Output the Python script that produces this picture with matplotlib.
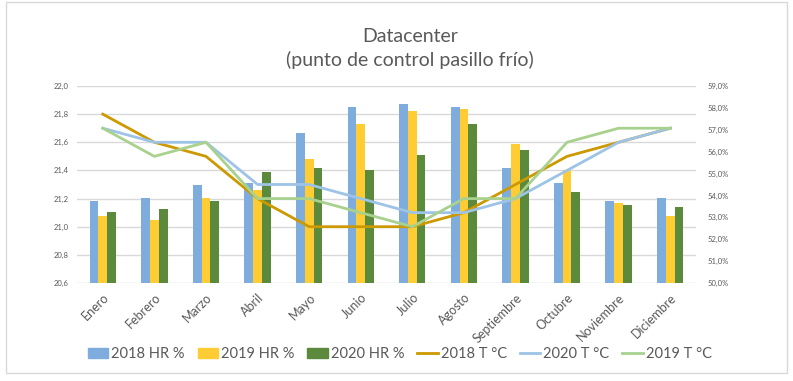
import numpy as np
import matplotlib
matplotlib.use("Agg")
import matplotlib.pyplot as plt
from matplotlib.patches import Patch, Rectangle
from matplotlib.lines import Line2D

# datos del grafico
meses = ["Enero", "Febrero", "Marzo", "Abril", "Mayo", "Junio", "Julio",
         "Agosto", "Septiembre", "Octubre", "Noviembre", "Diciembre"]
hr_2018 = [53.76, 53.88, 54.47, 54.57, 56.85, 58.04, 58.17, 58.04, 55.25, 54.57, 53.74, 53.88]
hr_2019 = [53.06, 52.88, 53.88, 54.25, 55.66, 57.26, 57.85, 57.95, 56.36, 55.17, 53.65, 53.06]
hr_2020 = [53.24, 53.38, 53.74, 55.07, 55.25, 55.16, 55.84, 57.26, 56.07, 54.16, 53.56, 53.47]
t_2018 = [21.8, 21.6, 21.5, 21.2, 21.0, 21.0, 21.0, 21.1, 21.3, 21.5, 21.6, 21.7]
t_2020 = [21.7, 21.6, 21.6, 21.3, 21.3, 21.2, 21.1, 21.1, 21.2, 21.4, 21.6, 21.7]
t_2019 = [21.7, 21.5, 21.6, 21.2, 21.2, 21.1, 21.0, 21.2, 21.2, 21.6, 21.7, 21.7]

gris = "#595959"
plt.rcParams['font.family'] = ["Lato", "DejaVu Sans"]

fig = plt.figure(figsize=(7.93, 3.81), dpi=100)
# marco exterior
fig.patches.append(Rectangle((0.0076, 0.021), 0.985, 0.975, transform=fig.transFigure,
                             fill=False, edgecolor="#D9D9D9", linewidth=1))

# eje base: solo la cuadricula de temperatura
ax = fig.add_axes([0.0971, 0.2572, 0.7806, 0.5171])
ax.set_ylim(20.6, 22.0)
ax.set_yticks(np.arange(20.6, 22.01, 0.2))
ax.set_yticklabels([("%.1f" % v).replace(".", ",") for v in np.arange(20.6, 22.01, 0.2)],
                   fontsize=5.5, color=gris)
ax.grid(True, axis="y", color="#D9D9D9", linewidth=1)
ax.set_axisbelow(True)
x = np.arange(len(meses))
ax.set_xlim(-0.5, len(meses) - 0.5)
ax.set_xticks(x)
ax.set_xticklabels(meses, rotation=45, ha="right", rotation_mode="anchor",
                   fontsize=9, color=gris)
ax.tick_params(length=0, pad=6)
for s in ax.spines.values():
    s.set_visible(False)

# barras de humedad (eje derecho)
axb = ax.twinx()
w = 0.17
axb.bar(x - w, hr_2018, w, color="#7EADDD")
axb.bar(x, hr_2019, w, color="#FFCD33")
axb.bar(x + w, hr_2020, w, color="#5B8A3C")
axb.set_ylim(50, 59)
axb.set_yticks(range(50, 60))
axb.set_yticklabels(["%d,0%%" % v for v in range(50, 60)], fontsize=5.5, color=gris)
axb.tick_params(length=0, pad=8)
for s in axb.spines.values():
    s.set_visible(False)

# lineas de temperatura (eje izquierdo)
axl = ax.twinx()
axl.plot(x, t_2018, color="#CC9900", linewidth=2)
axl.plot(x, t_2020, color="#9DC3E6", linewidth=2)
axl.plot(x, t_2019, color="#A9D18E", linewidth=2)
axl.set_ylim(20.6, 22.0)
axl.set_yticks([])
for s in axl.spines.values():
    s.set_visible(False)

fig.text(0.517, 0.905, "Datacenter", ha="center", va="center", fontsize=14, color=gris)
fig.text(0.517, 0.843, "(punto de control pasillo frío)", ha="center", va="center",
         fontsize=14, color=gris)

handles = [Patch(color="#7EADDD"), Patch(color="#FFCD33"), Patch(color="#5B8A3C"),
           Line2D([], [], color="#CC9900", linewidth=2),
           Line2D([], [], color="#9DC3E6", linewidth=2),
           Line2D([], [], color="#A9D18E", linewidth=2)]
etiquetas = ["2018 HR %", "2019 HR %", "2020 HR %", "2018 T °C", "2020 T °C", "2019 T °C"]
fig.legend(handles, etiquetas, loc="center", bbox_to_anchor=(0.504, 0.071), ncol=6,
           frameon=False, fontsize=10.5, labelcolor=gris, handlelength=1.4,
           handletextpad=0.2, columnspacing=0.9)

fig.savefig("out.png", dpi=100)
